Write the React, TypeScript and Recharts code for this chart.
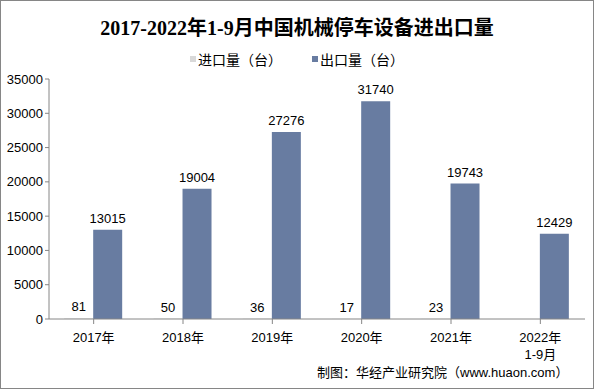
import { BarChart, Bar, XAxis, YAxis, LabelList } from 'recharts'

const categories = ['2017年', '2018年', '2019年', '2020年', '2021年', '2022年\n1-9月']
const importValues = [81, 50, 36, 17, 23, null]
const exportValues = [13015, 19004, 27276, 31740, 19743, 12429]
const yTicks = [0, 5000, 10000, 15000, 20000, 25000, 30000, 35000]

const IMPORT_COLOR = '#d9d9d9'
const EXPORT_COLOR = '#687ca1'
const AXIS_COLOR = '#868686'
const SANS = '"Liberation Sans", Arial, "Noto Sans CJK SC", sans-serif'

const data = categories.map((name, i) => ({
  name,
  imports: importValues[i],
  exports: exportValues[i],
}))

function CategoryTick({ x, y, payload }: any) {
  const lines = String(payload.value).split('\n')
  return (
    <text x={x} y={y + 16} textAnchor="middle" fontSize={13} fill="#000" fontFamily={SANS}>
      {lines.map((line, i) => (
        <tspan key={i} x={x} dy={i === 0 ? 0 : 17}>
          {line}
        </tspan>
      ))}
    </text>
  )
}

export default function App() {
  return (
    <div
      style={{
        position: 'absolute',
        left: 0,
        top: 0,
        width: 594,
        height: 389,
        background: '#fff',
        boxSizing: 'border-box',
        border: `1px solid ${AXIS_COLOR}`,
        fontFamily: SANS,
      }}
    >
      <div
        style={{
          position: 'absolute',
          top: 11,
          left: 0,
          width: 592,
          textAlign: 'center',
          fontSize: 20,
          fontWeight: 'bold',
          fontFamily: '"Liberation Serif", "Noto Sans CJK SC", serif',
          color: '#000',
        }}
      >
        2017-2022年1-9月中国机械停车设备进出口量
      </div>
      <div
        style={{
          position: 'absolute',
          top: 48,
          left: 0,
          width: 592,
          display: 'flex',
          justifyContent: 'center',
          fontSize: 14,
          color: '#000',
          gap: 30,
        }}
      >
        <span style={{ display: 'flex', alignItems: 'center' }}>
          <span style={{ width: 6, height: 6, background: IMPORT_COLOR, marginRight: 2 }} />
          进口量（台）
        </span>
        <span style={{ display: 'flex', alignItems: 'center' }}>
          <span style={{ width: 6, height: 6, background: EXPORT_COLOR, marginRight: 2 }} />
          出口量（台）
        </span>
      </div>
      <div style={{ position: 'absolute', left: -1, top: -1 }}>
        <BarChart
          width={594}
          height={389}
          data={data}
          margin={{ top: 79, right: 9, bottom: 30, left: 4 }}
          barCategoryGap="17%"
          barGap={0}
        >
          <XAxis
            dataKey="name"
            interval={0}
            height={40}
            stroke={AXIS_COLOR}
            tickLine={{ stroke: AXIS_COLOR }}
            tickSize={5}
            tick={<CategoryTick />}
          />
          <YAxis
            width={45}
            domain={[0, 35000]}
            ticks={yTicks}
            stroke={AXIS_COLOR}
            tickSize={4}
            tick={{ fontSize: 13, fill: '#000', fontFamily: SANS }}
          />
          <Bar dataKey="imports" fill={IMPORT_COLOR} isAnimationActive={false}>
            <LabelList dataKey="imports" position="top" offset={7} fontSize={13} fill="#000" fontFamily={SANS} />
          </Bar>
          <Bar dataKey="exports" fill={EXPORT_COLOR} isAnimationActive={false}>
            <LabelList dataKey="exports" position="top" offset={7} fontSize={13} fill="#000" fontFamily={SANS} />
          </Bar>
        </BarChart>
      </div>
      <div
        style={{
          position: 'absolute',
          left: 316,
          top: 361,
          fontSize: 13,
          color: '#000',
          whiteSpace: 'nowrap',
        }}
      >
        制图：华经产业研究院（www.huaon.com）
      </div>
    </div>
  )
}
